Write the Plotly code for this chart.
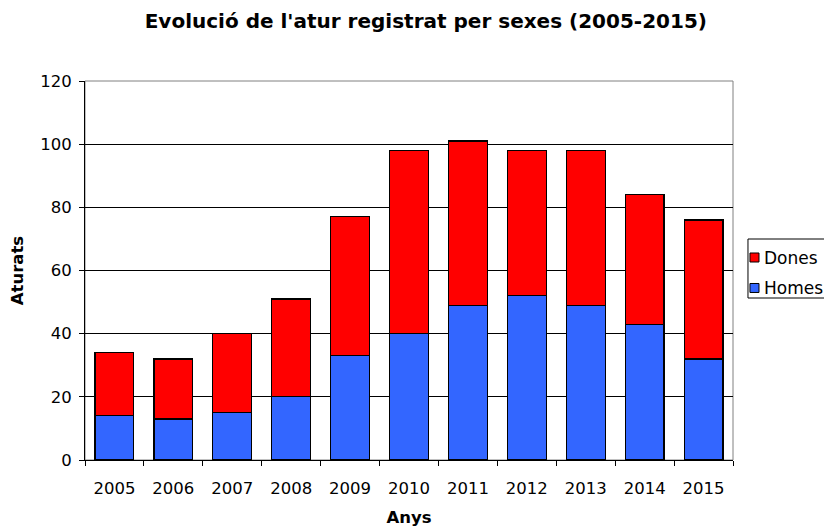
import plotly.graph_objects as go

anys = ["2005", "2006", "2007", "2008", "2009", "2010", "2011", "2012", "2013", "2014", "2015"]
homes = [14, 13, 15, 20, 33, 40, 49, 52, 49, 43, 32]
dones = [20, 19, 25, 31, 44, 58, 52, 46, 49, 41, 44]
series_names = ["Dones", "Homes"]
series_colors = ["#FF0000", "#3366FF"]

font = "DejaVu Sans, Verdana, sans-serif"

fig = go.Figure()
fig.add_trace(go.Bar(x=anys, y=homes, name="Homes", showlegend=False,
                     marker=dict(color=series_colors[1], line=dict(color="black", width=1.2))))
fig.add_trace(go.Bar(x=anys, y=dones, name="Dones", showlegend=False,
                     marker=dict(color=series_colors[0], line=dict(color="black", width=1.2))))

# hand-drawn legend box (partly beyond the right edge, as in the reference)
shapes = [
    dict(type="rect", xref="paper", yref="paper", x0=0, x1=1, y0=0, y1=1,
         line=dict(color="#808080", width=1), layer="below"),
    dict(type="rect", xref="paper", yref="paper", x0=1.0231, x1=1.17, y0=0.4274, y1=0.5831,
         line=dict(color="black", width=1), fillcolor="white"),
]
annotations = []
legend_rows = [(0.5224, 0.5462, 0.5343), (0.442, 0.4657, 0.4538)]
for name, color, (y0, y1, yt) in zip(series_names, series_colors, legend_rows):
    shapes.append(dict(type="rect", xref="paper", yref="paper", x0=1.0262, x1=1.0401, y0=y0, y1=y1,
                       line=dict(color="black", width=1), fillcolor=color))
    annotations.append(dict(text=name, xref="paper", yref="paper", x=1.0445, y=yt,
                            xanchor="left", yanchor="middle", showarrow=False,
                            font=dict(size=17, family=font, color="black")))

fig.update_layout(
    width=832, height=528,
    barmode="stack", bargap=0.34,
    paper_bgcolor="white", plot_bgcolor="white",
    margin=dict(l=77, r=107, t=73, b=76, autoexpand=False),
    font=dict(family=font, size=16.5, color="black"),
    showlegend=False,
    title=dict(text="<b>Evolució de l'atur registrat per sexes (2005-2015)</b>", x=0.526, xref="paper",
               xanchor="center", y=0.975, yanchor="middle", font=dict(size=20)),
    xaxis=dict(title=dict(text="<b>Anys</b>", font=dict(size=16.5), standoff=14),
               showline=True, linecolor="black", linewidth=1, automargin=False,
               ticks="outside", ticklen=5, tickcolor="black", tickson="boundaries",
               ticklabelstandoff=13, mirror=False, showgrid=False),
    yaxis=dict(title=dict(text="<b>Aturats</b>", font=dict(size=16.5), standoff=12),
               range=[0, 120], dtick=20, showline=True, linecolor="black", linewidth=1,
               ticks="outside", ticklen=5, tickcolor="black", automargin=False,
               ticklabelstandoff=4,
               showgrid=True, gridcolor="black", gridwidth=1, zeroline=False),
    shapes=shapes,
    annotations=annotations,
)

fig.write_html("out.html")
